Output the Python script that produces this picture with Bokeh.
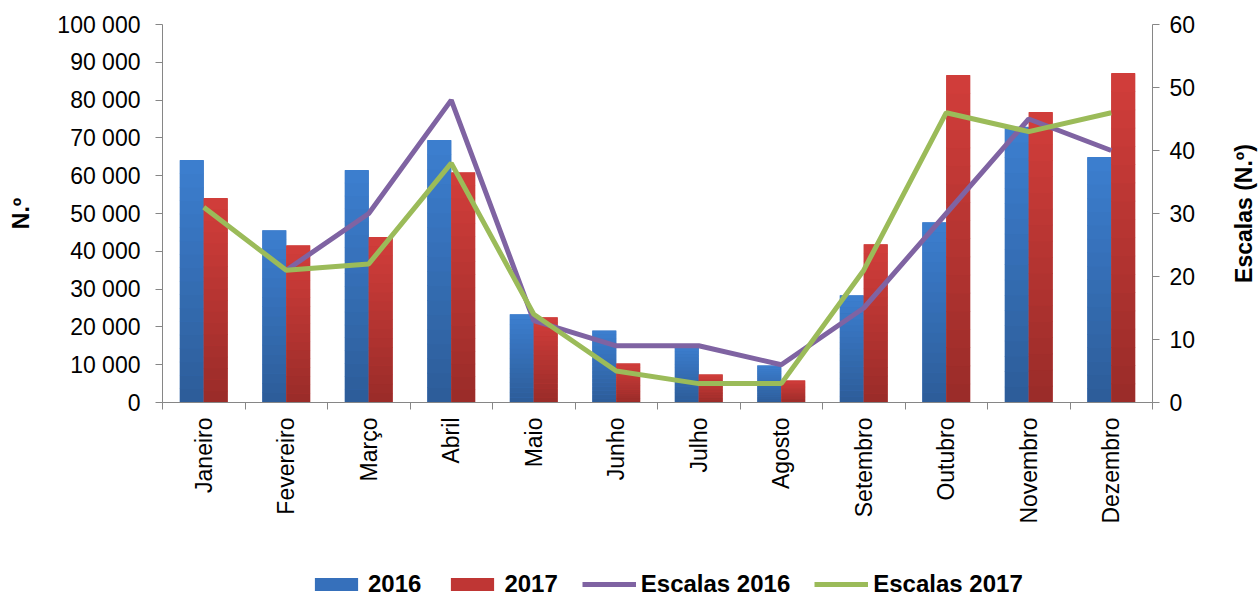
import math
from bokeh.plotting import figure
from bokeh.layouts import column, row
from bokeh.models import (Range1d, LinearAxis, FixedTicker, Legend, LegendItem,
                          ColumnDataSource, Label)
from bokeh.embed import file_html
from bokeh.resources import INLINE

months = ["Janeiro", "Fevereiro", "Março", "Abril", "Maio", "Junho", "Julho",
          "Agosto", "Setembro", "Outubro", "Novembro", "Dezembro"]
n2016 = [64000, 45500, 61400, 69300, 23300, 19000, 15200, 9800, 28300, 47600, 72800, 64800]
n2017 = [54000, 41500, 43700, 60800, 22500, 10300, 7400, 5800, 41800, 86500, 76700, 87000]
esc2016 = [float("nan"), 21, 30, 48, 13, 9, 9, 6, 15, 30, 45, 40]
esc2017 = [31, 21, 22, 38, 14, 5, 3, 3, 21, 46, 43, 46]
y_ticks = [0, 10000, 20000, 30000, 40000, 50000, 60000, 70000, 80000, 90000, 100000]
y2_ticks = [0, 10, 20, 30, 40, 50, 60]

FONT = "Liberation Sans"
AX = "#868686"
C16_TOP, C16_BOT, C16_MID = "#3c7fd0", "#2d5c98", "#3670bb"
C17_TOP, C17_BOT, C17_MID = "#d23e3a", "#992b29", "#bf3634"
CL16, CL17 = "#7f63a2", "#9bbb59"
NAN = float("nan")

MAIN_W = 1228
TITLE_W = 30
TITLE_FS = "23px"

p = figure(width=MAIN_W, height=556, output_backend="svg", toolbar_location=None,
           x_range=Range1d(-0.5, 11.5), y_range=Range1d(0, 100000),
           min_border_left=162, min_border_right=76, min_border_top=24, min_border_bottom=154)
p.outline_line_color = None
p.xgrid.visible = False
p.ygrid.visible = False
p.extra_y_ranges = {"esc": Range1d(0, 60)}

def hex2rgb(h):
    h = h.lstrip("#")
    return tuple(int(h[i:i + 2], 16) for i in (0, 2, 4))

def mix(c1, c2, t):
    a, b = hex2rgb(c1), hex2rgb(c2)
    return "#%02x%02x%02x" % tuple(round(a[i] + (b[i] - a[i]) * t) for i in range(3))

xs = list(range(len(months)))
W = 0.29
OFF = 0.145
NS = 18

def bars(values, dx, top_col, bot_col, mid_col):
    xpos = [x + dx for x in xs]
    p.vbar(x=xpos, top=values, width=W, fill_color=mid_col, line_color=None)
    sx, sb, st, sc = [], [], [], []
    for x, v in zip(xpos, values):
        for k in range(NS):
            sx.append(x)
            sb.append(v * k / NS)
            st.append(v * (k + 1) / NS + v * 0.002)
            sc.append(mix(bot_col, top_col, (k + 0.5) / NS))
    src = ColumnDataSource(dict(x=sx, bottom=sb, top=st, color=sc))
    p.vbar(x="x", bottom="bottom", top="top", width=W, fill_color="color",
           line_color=None, source=src)

bars(n2016, -OFF, C16_TOP, C16_BOT, C16_MID)
bars(n2017, OFF, C17_TOP, C17_BOT, C17_MID)

p.line(xs, esc2016, y_range_name="esc", line_color=CL16, line_width=5)
p.line(xs, esc2017, y_range_name="esc", line_color=CL17, line_width=5)

TICK_FS = "23px"

# x axis
xa = p.xaxis[0]
xa.ticker = FixedTicker(ticks=xs, minor_ticks=[x - 0.5 for x in xs] + [11.5])
xa.major_label_overrides = {i: m for i, m in enumerate(months)}
xa.major_label_orientation = math.pi / 2
xa.major_tick_line_color = None
xa.major_tick_out = 0
xa.major_tick_in = 0
xa.minor_tick_out = 7
xa.minor_tick_in = 0
xa.minor_tick_line_color = AX
xa.axis_line_color = AX
xa.major_label_standoff = 8
xa.major_label_text_font = FONT
xa.major_label_text_font_size = TICK_FS
xa.major_label_text_color = "black"

# left axis
ya = p.yaxis[0]
ya.ticker = FixedTicker(ticks=y_ticks, minor_ticks=[])
ya.major_label_overrides = {t: f"{t:,}".replace(",", " ") for t in y_ticks}
ya.major_tick_out = 7
ya.major_tick_in = 0
ya.major_tick_line_color = AX
ya.axis_line_color = AX
ya.major_label_standoff = 15
ya.major_label_text_font = FONT
ya.major_label_text_font_size = TICK_FS
ya.major_label_text_color = "black"
ya.axis_label = "N.º"
ya.axis_label_text_font = FONT
ya.axis_label_text_font_style = "bold"
ya.axis_label_text_font_size = TITLE_FS
ya.axis_label_text_color = "black"
ya.axis_label_standoff = 20

# right axis (ticks and numbers)
ra = LinearAxis(y_range_name="esc", ticker=FixedTicker(ticks=y2_ticks, minor_ticks=[]))
ra.major_tick_out = 7
ra.major_tick_in = 0
ra.major_tick_line_color = AX
ra.axis_line_color = AX
ra.major_label_standoff = 10
ra.major_label_text_font = FONT
ra.major_label_text_font_size = TICK_FS
ra.major_label_text_color = "black"
p.add_layout(ra, "right")

# right axis title, in a narrow strip at the right
r = figure(width=TITLE_W, height=556, output_backend="svg", toolbar_location=None,
           x_range=Range1d(0, 1), y_range=Range1d(0, 1),
           min_border_left=0, min_border_right=0, min_border_top=24, min_border_bottom=154)
r.axis.visible = False
r.grid.visible = False
r.outline_line_color = None
r.add_layout(Label(x=0.5, y=0.5, text="Escalas (N.º)", angle=math.pi / 2,
                   text_align="center", text_baseline="middle",
                   text_font=FONT, text_font_style="bold", text_font_size=TITLE_FS,
                   text_color="black"))

# legend strip
q = figure(width=MAIN_W, height=42, output_backend="svg", toolbar_location=None,
           x_range=Range1d(0, 1), y_range=Range1d(0, 1), min_border=0)
q.axis.visible = False
q.grid.visible = False
q.outline_line_color = None
g16 = q.vbar(x=[NAN], top=[NAN], width=1, fill_color=C16_MID, line_color=None)
g17 = q.vbar(x=[NAN], top=[NAN], width=1, fill_color=C17_MID, line_color=None)
g16l = q.line(x=[NAN, NAN], y=[NAN, NAN], line_color=CL16, line_width=5)
g17l = q.line(x=[NAN, NAN], y=[NAN, NAN], line_color=CL17, line_width=5)
legend = Legend(items=[LegendItem(label="2016", renderers=[g16]),
                       LegendItem(label="2017", renderers=[g17]),
                       LegendItem(label="Escalas 2016", renderers=[g16l]),
                       LegendItem(label="Escalas 2017", renderers=[g17l])],
                orientation="horizontal", location=(147, 0),
                glyph_width=54, glyph_height=16, label_standoff=5, spacing=24,
                padding=0, margin=0, border_line_color=None, background_fill_alpha=0,
                label_text_font=FONT, label_text_font_style="bold",
                label_text_color="black",
                label_text_font_size="24px", label_height=16)
q.add_layout(legend, "center")

layout = row(column(p, q, spacing=0), r, spacing=0)
open("out.html", "w").write(file_html(layout, INLINE))
